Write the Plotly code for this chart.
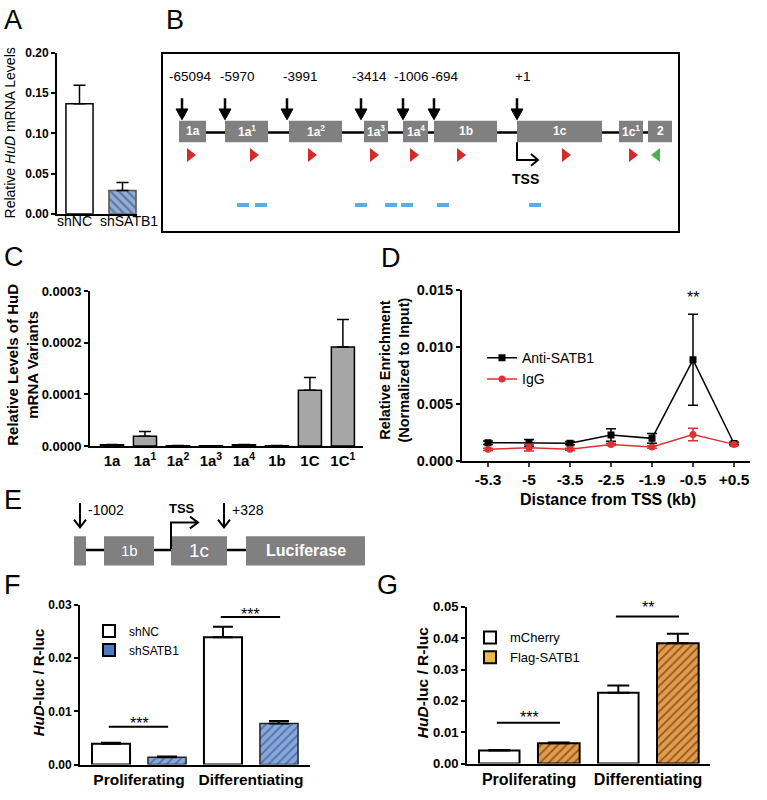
import plotly.graph_objects as go

W, H = 767, 800
FONT = "Arial, Liberation Sans, Helvetica, sans-serif"

# ---------------- data ----------------
# Panel A
a_groups = ["shNC", "shSATB1"]
a_values = [0.137, 0.029]
a_errors = [0.023, 0.010]

# Panel B (gene diagram, diagram units)
b_exon_names = ["1a", "1a<sup>1</sup>", "1a<sup>2</sup>", "1a<sup>3</sup>", "1a<sup>4</sup>",
                "1b", "1c", "1c<sup>1</sup>", "2"]
b_exon_start = [16, 62, 126, 201, 240, 271, 354, 456, 485]
b_exon_end = [43, 105, 179, 225, 265, 334, 439, 480, 509]
b_site_labels = ["-65094", "-5970", "-3991", "-3414", "-1006", "-694", "+1"]
b_site_pos = [19, 62, 124, 198, 240, 271, 354]
b_site_label_pos = [27, 74, 137, 206, 248, 282, 359]
b_fwd_primers = [27, 90, 148, 210, 250, 297, 402, 469]
b_rev_primers = [494]
b_amplicons = [80, 98, 198, 228, 244, 280, 372]
b_tss = 354

# Panel C
c_variants = ["1a", "1a<sup>1</sup>", "1a<sup>2</sup>", "1a<sup>3</sup>", "1a<sup>4</sup>",
              "1b", "1C", "1C<sup>1</sup>"]
c_values = [0.0000025, 0.000019, 0.0000008, 0.0000006, 0.0000025, 0.0000008, 0.000108, 0.000192]
c_errors = [0.0000005, 0.000009, 0.0000002, 0.0000002, 0.0000005, 0.0000002, 0.000025, 0.000053]

# Panel D
d_distance = ["-5.3", "-5", "-3.5", "-2.5", "-1.9", "-0.5", "+0.5"]
d_anti = [0.00159, 0.00158, 0.00155, 0.00226, 0.00197, 0.00888, 0.00152]
d_anti_err = [0.00015, 0.0003, 0.00015, 0.00055, 0.00042, 0.0040, 0.0001]
d_igg = [0.00101, 0.00115, 0.00101, 0.00144, 0.00121, 0.0023, 0.00144]
d_igg_err = [0.0001, 0.0003, 0.0001, 0.0001, 0.0001, 0.00055, 0.0001]

# Panel E (reporter construct, diagram units)
e_block_names = ["", "1b", "1c", "Luciferase"]
e_block_start = [14, 44, 111, 186]
e_block_end = [26, 94, 167, 305]
e_site_labels = ["-1002", "+328"]
e_site_pos = [20, 164]
e_tss = 111

# Panels F and G
fg_conditions = ["Proliferating", "Differentiating"]
f_shnc = [0.0039, 0.0239]
f_shnc_err = [0.0002, 0.0020]
f_shsatb1 = [0.00135, 0.0077]
f_shsatb1_err = [0.00015, 0.0005]
f_sig = ["***", "***"]
f_sig_level = [0.0071, 0.0277]

g_mcherry = [0.0042, 0.0226]
g_mcherry_err = [0.0001, 0.0023]
g_flag = [0.0065, 0.0384]
g_flag_err = [0.0002, 0.0030]
g_sig = ["***", "**"]
g_sig_level = [0.0130, 0.0469]


def X(px):
    return px / W


def Y(py):
    return 1 - py / H


fig = go.Figure()
ann = []
shapes = []

line_ax = dict(showline=True, linecolor="black", linewidth=2, showgrid=False, zeroline=False)
yt = dict(ticks="outside", ticklen=4, tickwidth=2, tickcolor="black")


def dann(x, y, xref, yref, text, size, color="black", **kw):
    d = dict(x=x, y=y, xref=xref, yref=yref, text=text, showarrow=False,
             font=dict(size=size, color=color))
    d.setdefault("xanchor", "center")
    d.setdefault("yanchor", "middle")
    d.update(kw)
    ann.append(d)


# ---------------- Panel A ----------------
fig.add_trace(go.Bar(
    x=a_groups, y=a_values, width=0.63, xaxis="x", yaxis="y", showlegend=False,
    marker=dict(color=["white", "#8FAEE0"], line=dict(color=["black", "#555555"], width=1.5),
                pattern=dict(shape=["", "\\"], fgcolor="#1B2A55", bgcolor=["white", "#8FAEE0"],
                             size=6, solidity=0.4, fillmode="overlay")),
    error_y=dict(type="data", array=a_errors, arrayminus=[0] * len(a_errors), symmetric=False,
                 color="black", thickness=1.5, width=6)))
# category labels (GraphPad places them slightly off-centre)
for g, shift in zip(a_groups, [-4.5, 6.5]):
    dann(g, Y(217), "x", "paper", g, 14, xshift=shift)

# ---------------- Panel B ----------------
shapes.append(dict(type="line", xref="x2", yref="y2", x0=b_exon_end[0], x1=b_exon_start[-1],
                   y0=80, y1=80, line=dict(color="black", width=2.5)))
for name, s, e in zip(b_exon_names, b_exon_start, b_exon_end):
    shapes.append(dict(type="rect", xref="x2", yref="y2", x0=s, x1=e, y0=68, y1=90,
                       fillcolor="#808080", line=dict(width=0)))
    dann((s + e) / 2, 79, "x2", "y2", f"<b>{name}</b>", 12, "white")
for p in b_site_pos:
    shapes.append(dict(type="line", xref="x2", yref="y2", x0=p, x1=p, y0=45, y1=58,
                       line=dict(color="black", width=2.5)))
    shapes.append(dict(type="path", xref="x2", yref="y2",
                       path=f"M{p - 6},56 L{p + 6},56 L{p},67 Z",
                       fillcolor="black", line=dict(color="black", width=1)))
for lab, lp in zip(b_site_labels, b_site_label_pos):
    dann(lp, 23, "x2", "y2", lab, 13.5)
fig.add_trace(go.Scatter(x=b_fwd_primers, y=[103] * len(b_fwd_primers), xaxis="x2", yaxis="y2",
                         mode="markers", showlegend=False, hoverinfo="skip",
                         marker=dict(symbol="triangle-right", size=12, color="#D42A2A")))
fig.add_trace(go.Scatter(x=b_rev_primers, y=[103] * len(b_rev_primers), xaxis="x2", yaxis="y2",
                         mode="markers", showlegend=False, hoverinfo="skip",
                         marker=dict(symbol="triangle-left", size=12, color="#4CAF50")))
for c in b_amplicons:
    shapes.append(dict(type="rect", xref="x2", yref="y2", x0=c - 6, x1=c + 6, y0=152, y1=156,
                       fillcolor="#5DADE2", line=dict(width=0)))
t = b_tss
shapes.append(dict(type="path", xref="x2", yref="y2",
                   path=f"M{t},90 L{t},108 L{t + 21},108 M{t + 14},102 L{t + 21},108 L{t + 14},114",
                   line=dict(color="black", width=2)))
dann(t + 8, 128, "x2", "y2", "<b>TSS</b>", 14)

# ---------------- Panel C ----------------
fig.add_trace(go.Bar(
    x=c_variants, y=c_values, width=0.7, xaxis="x3", yaxis="y3", showlegend=False,
    marker=dict(color="#A6A6A6", line=dict(color="black", width=1.5)),
    error_y=dict(type="data", array=c_errors, arrayminus=[0] * len(c_errors), symmetric=False,
                 color="black", thickness=1.5, width=6)))

# ---------------- Panel D ----------------
fig.add_trace(go.Scatter(
    x=d_distance, y=d_anti, name="Anti-SATB1", xaxis="x4", yaxis="y4", mode="lines+markers",
    line=dict(color="black", width=1.5), marker=dict(symbol="square", size=7, color="black"),
    error_y=dict(type="data", array=d_anti_err, color="black", thickness=1.5, width=5),
    legend="legend"))
fig.add_trace(go.Scatter(
    x=d_distance, y=d_igg, name="IgG", xaxis="x4", yaxis="y4", mode="lines+markers",
    line=dict(color="#D93333", width=1.5), marker=dict(symbol="circle", size=7, color="#D93333"),
    error_y=dict(type="data", array=d_igg_err, color="#D93333", thickness=1.5, width=5),
    legend="legend"))
dann(5, 0.0147, "x4", "y4", "**", 16, yshift=-4)

# ---------------- Panel E ----------------
shapes.append(dict(type="line", xref="x5", yref="y5", x0=e_block_end[0], x1=e_block_start[-1],
                   y0=58, y1=58, line=dict(color="black", width=2.5)))
e_sizes = [12, 15, 19, 16]
for name, s, e, fs in zip(e_block_names, e_block_start, e_block_end, e_sizes):
    shapes.append(dict(type="rect", xref="x5", yref="y5", x0=s, x1=e, y0=44, y1=74,
                       fillcolor="#808080", line=dict(width=0)))
    if name:
        txt = f"<b>{name}</b>" if name == "Luciferase" else name
        dann((s + e) / 2, 59, "x5", "y5", txt, fs, "white")
for lab, p in zip(e_site_labels, e_site_pos):
    shapes.append(dict(type="path", xref="x5", yref="y5",
                       path=f"M{p},10 L{p},35 M{p - 6},27 L{p},35 L{p + 6},27",
                       line=dict(color="black", width=2)))
    dann(p + 6, 17, "x5", "y5", lab, 14, xanchor="left")
t = e_tss
shapes.append(dict(type="path", xref="x5", yref="y5",
                   path=f"M{t},57 L{t},30 L{t + 27},30 M{t + 19},24 L{t + 27},30 L{t + 19},36",
                   line=dict(color="black", width=2), layer="above"))
dann(t + 11, 16, "x5", "y5", "<b>TSS</b>", 13)

# ---------------- Panel F ----------------
fig.add_trace(go.Bar(
    x=fg_conditions, y=f_shnc, width=0.34, offset=-0.42, xaxis="x6", yaxis="y6", showlegend=False,
    marker=dict(color="white", line=dict(color="black", width=2)),
    error_y=dict(type="data", array=f_shnc_err, arrayminus=[0, 0], symmetric=False,
                 color="black", thickness=2, width=10)))
fig.add_trace(go.Bar(
    x=fg_conditions, y=f_shsatb1, width=0.34, offset=0.08, xaxis="x6", yaxis="y6", showlegend=False,
    marker=dict(color="#86A8DC", line=dict(color="#222222", width=1.5),
                pattern=dict(shape="/", fgcolor="#23396B", bgcolor="#86A8DC", size=6,
                             solidity=0.3, fillmode="overlay")),
    error_y=dict(type="data", array=f_shsatb1_err, arrayminus=[0, 0], symmetric=False,
                 color="black", thickness=2, width=10)))
fig.add_trace(go.Bar(x=[None], y=[None], name="shNC", xaxis="x6", yaxis="y6", legend="legend2",
                     marker=dict(color="white", line=dict(color="black", width=2))))
fig.add_trace(go.Bar(x=[None], y=[None], name="shSATB1", xaxis="x6", yaxis="y6", legend="legend2",
                     marker=dict(color="#4A7CC4", line=dict(color="black", width=2))))
for i, (s, lvl) in enumerate(zip(f_sig, f_sig_level)):
    shapes.append(dict(type="line", xref="x6", yref="y6", x0=i - 0.27, x1=i + 0.26, y0=lvl, y1=lvl,
                       line=dict(color="black", width=2)))
    dann(i, lvl, "x6", "y6", s, 16, yshift=3)

# ---------------- Panel G ----------------
fig.add_trace(go.Bar(
    x=fg_conditions, y=g_mcherry, width=0.34, offset=-0.42, xaxis="x7", yaxis="y7", showlegend=False,
    marker=dict(color="white", line=dict(color="black", width=2)),
    error_y=dict(type="data", array=g_mcherry_err, arrayminus=[0, 0], symmetric=False,
                 color="black", thickness=2, width=11)))
fig.add_trace(go.Bar(
    x=fg_conditions, y=g_flag, width=0.35, offset=0.075, xaxis="x7", yaxis="y7", showlegend=False,
    marker=dict(color="#E49A48", line=dict(color="black", width=2),
                pattern=dict(shape="/", fgcolor="#2A1A0A", bgcolor="#E49A48", size=6,
                             solidity=0.3, fillmode="overlay")),
    error_y=dict(type="data", array=g_flag_err, arrayminus=[0, 0], symmetric=False,
                 color="black", thickness=2, width=11)))
fig.add_trace(go.Bar(x=[None], y=[None], name="mCherry", xaxis="x7", yaxis="y7", legend="legend3",
                     marker=dict(color="white", line=dict(color="black", width=2))))
fig.add_trace(go.Bar(x=[None], y=[None], name="Flag-SATB1", xaxis="x7", yaxis="y7", legend="legend3",
                     marker=dict(color="#E9B949", line=dict(color="black", width=2))))
for i, (s, lvl) in enumerate(zip(g_sig, g_sig_level)):
    shapes.append(dict(type="line", xref="x7", yref="y7", x0=i - 0.27, x1=i + 0.26, y0=lvl, y1=lvl,
                       line=dict(color="black", width=2)))
    dann(i, lvl, "x7", "y7", s, 16, yshift=5 if s == "***" else 9)


# ---------------- titles, panel letters ----------------
def pann(x, y, text, size, angle=0, **kw):
    d = dict(x=X(x), y=Y(y), xref="paper", yref="paper", text=text, showarrow=False,
             textangle=angle, font=dict(size=size, color="black"), xanchor="center",
             yanchor="middle")
    d.update(kw)
    ann.append(d)


for letter, lx, ly in [("A", 2, 12), ("B", 164, 12), ("C", 2, 254), ("D", 379, 255),
                       ("E", 2, 502), ("F", 2, 589), ("G", 375, 589)]:
    pann(lx, ly, letter, 27, xanchor="left")

pann(10, 128, "Relative <i>HuD</i> mRNA Levels", 14, -90)
pann(23, 364, "<b>Relative Levels of HuD<br>mRNA Variants</b>", 15, -90)
pann(395, 370, "<b>Relative Enrichment<br>(Normalized to Input)</b>", 14.5, -90)
pann(608, 502, "<b>Distance from TSS (kb)</b>", 16)
pann(38, 688, "<b><i>HuD</i>-luc / R-luc</b>", 15, -90)
pann(422, 689, "<b><i>HuD</i>-luc / R-luc</b>", 15.5, -90)

# ---------------- layout ----------------
bold = dict(weight="bold", color="black", family=FONT)
fig.update_layout(
    width=W, height=H, autosize=False, margin=dict(l=0, r=0, t=0, b=0, pad=0),
    paper_bgcolor="white", plot_bgcolor="white", barmode="overlay",
    font=dict(family=FONT, color="black"), hovermode=False,
    xaxis=dict(domain=[X(57), X(137)], anchor="y", type="category", range=[-0.523, 1.337],
               ticks="", showticklabels=False, **line_ax),
    yaxis=dict(domain=[Y(210), Y(46)], anchor="x", range=[0, 0.2], dtick=0.05, tickformat=".2f",
               tickfont=dict(size=12, **bold), **yt, **line_ax),
    xaxis2=dict(domain=[X(163), X(678)], anchor="y2", range=[0, 515], showline=True, mirror=True,
                linecolor="black", linewidth=1.5, showgrid=False, zeroline=False,
                showticklabels=False, ticks=""),
    yaxis2=dict(domain=[Y(228), Y(47)], anchor="x2", range=[181, 0], showline=True, mirror=True,
                linecolor="black", linewidth=1.5, showgrid=False, zeroline=False,
                showticklabels=False, ticks=""),
    xaxis3=dict(domain=[X(90), X(363)], anchor="y3", type="category", range=[-0.667, 7.61],
                ticks="", tickangle=0, tickfont=dict(size=15, **bold), **line_ax),
    yaxis3=dict(domain=[Y(447), Y(289)], anchor="x3", range=[0, 0.0003], dtick=0.0001,
                tickformat=".4f", tickfont=dict(size=13, **bold), **yt, **line_ax),
    xaxis4=dict(domain=[X(462), X(750)], anchor="y4", type="category", range=[-0.634, 6.39],
                ticks="outside", ticklen=4, tickwidth=2, tickangle=0,
                tickfont=dict(size=15.5, **bold), **line_ax),
    yaxis4=dict(domain=[Y(462), Y(288)], anchor="x4", range=[0, 0.015], dtick=0.005,
                tickformat=".3f", tickfont=dict(size=14.5, **bold), **yt, **line_ax),
    xaxis5=dict(domain=[X(60), X(370)], anchor="y5", range=[0, 310], visible=False),
    yaxis5=dict(domain=[Y(575), Y(495)], anchor="x5", range=[80, 0], visible=False),
    xaxis6=dict(domain=[X(80), X(310)], anchor="y6", type="category", range=[-0.527, 1.527],
                ticks="", tickangle=0, tickfont=dict(size=15.5, **bold), **line_ax),
    yaxis6=dict(domain=[Y(772), Y(609)], anchor="x6", range=[0, 0.03], dtick=0.01,
                tickformat=".2f", tickfont=dict(size=12, **bold), **yt, **line_ax),
    xaxis7=dict(domain=[X(467), X(710)], anchor="y7", type="category", range=[-0.521, 1.52],
                ticks="", tickangle=0, tickfont=dict(size=16, **bold), **line_ax),
    yaxis7=dict(domain=[Y(771), Y(611)], anchor="x7", range=[0, 0.05], dtick=0.01,
                tickformat=".2f", tickfont=dict(size=13, **bold), **yt, **line_ax),
    legend=dict(x=X(482), y=Y(341), xanchor="left", yanchor="top", font=dict(size=14),
                bgcolor="rgba(0,0,0,0)", itemclick=False, itemdoubleclick=False),
    legend2=dict(x=X(89), y=Y(621), xanchor="left", yanchor="top", font=dict(size=12),
                 bgcolor="rgba(0,0,0,0)", itemclick=False, itemdoubleclick=False),
    legend3=dict(x=X(470), y=Y(627), xanchor="left", yanchor="top", font=dict(size=13),
                 bgcolor="rgba(0,0,0,0)", itemclick=False, itemdoubleclick=False),
    annotations=ann, shapes=shapes, showlegend=True,
)

fig.write_html("out.html", config={"displayModeBar": False},
               post_script="document.body.style.margin='0';")
